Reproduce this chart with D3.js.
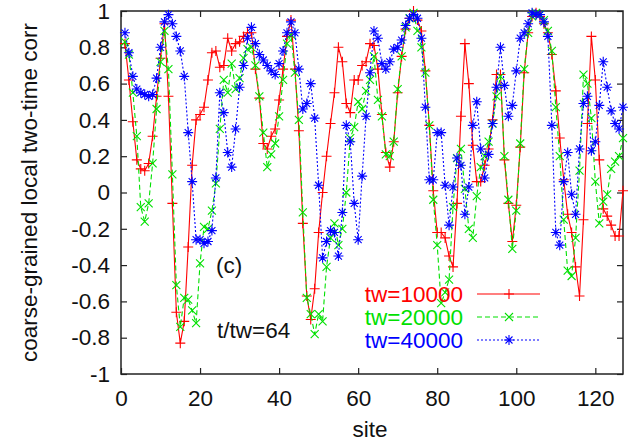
<!DOCTYPE html>
<html>
<head>
<meta charset="utf-8">
<script src="https://cdn.jsdelivr.net/npm/d3@7"></script>
<style>
  body { margin: 0; background: #fff; }
  svg text { font-family: "Liberation Sans", Arial, sans-serif; }
</style>
</head>
<body>
<svg width="631" height="444"></svg>
<script>
const svg = d3.select("svg");

const sites = d3.range(1, 128);

const tw10000 = [
  0.82, 0.62, 0.39, 0.18, 0.13, 0.12, 0.16, 0.31, 0.53, 0.74,
  0.93, 0.53, -0.06, -0.66, -0.83, -0.71, -0.30, 0.15, 0.40, 0.43,
  0.47, 0.62, 0.77, 0.78, 0.69, 0.70, 0.85, 0.78, 0.82, 0.83,
  0.86, 0.88, 0.88, 0.68, 0.52, 0.27, 0.24, 0.31, 0.35, 0.51,
  0.68, 0.86, 0.95, 0.68, 0.34, -0.17, -0.57, -0.70, -0.53, -0.22,
  0.00, 0.20, 0.38, 0.55, 0.80, 0.72, 0.49, 0.44, 0.62, 0.62,
  0.70, 0.72, 0.82, 0.81, 0.68, 0.43, 0.22, 0.14, 0.28, 0.55,
  0.75, 0.90, 0.96, 1.00, 0.95, 0.89, 0.67, 0.37, 0.01, -0.22,
  -0.22, -0.25, -0.35, -0.41, -0.06, 0.42, 0.82, 0.60, 0.26, 0.06,
  0.06, 0.15, 0.24, 0.40, 0.65, 0.65, 0.18, -0.06, -0.27, -0.07,
  0.25, 0.66, 0.88, 0.97, 0.99, 0.97, 0.93, 0.88, 0.76, 0.56,
  0.30, 0.07, -0.12, -0.22, -0.41, -0.57, -0.15, 0.38, 0.86, 0.62,
  0.18, -0.09, -0.13, -0.18, -0.24, -0.24, 0.01
];

const tw20000 = [
  0.83, 0.76, 0.55, 0.31, -0.08, -0.16, -0.06, 0.16, 0.46, 0.72,
  0.89, 0.68, 0.10, -0.51, -0.74, -0.58, -0.59, -0.65, -0.72, -0.39,
  -0.19, -0.20, -0.10, 0.05, 0.35, 0.62, 0.55, 0.71, 0.57, 0.63,
  0.74, 0.79, 0.80, 0.70, 0.53, 0.33, 0.14, 0.21, 0.27, 0.42,
  0.62, 0.82, 0.87, 0.66, 0.40, -0.11, -0.58, -0.67, -0.78, -0.67,
  -0.71, -0.41, -0.25, -0.17, -0.29, -0.20, 0.00, 0.30, 0.36, 0.50,
  0.46, 0.56, 0.62, 0.75, 0.51, 0.42, 0.21, 0.20, 0.28, 0.57,
  0.75, 0.91, 0.96, 0.99, 0.89, 0.80, 0.66, 0.37, -0.04, -0.29,
  -0.61, -0.55, -0.48, -0.08, 0.19, 0.24, 0.02, -0.20, -0.25, -0.02,
  0.14, 0.20, 0.28, 0.38, 0.53, 0.64, 0.20, -0.04, -0.31, -0.10,
  0.27, 0.68, 0.88, 0.97, 0.99, 0.98, 0.95, 0.89, 0.78, 0.47,
  0.20, -0.15, -0.43, -0.46, -0.25, 0.12, 0.65, 0.60, 0.41, 0.06,
  -0.17, -0.05, -0.01, 0.13, 0.17, 0.20, 0.30
];

const tw40000 = [
  0.88, 0.77, 0.64, 0.57, 0.55, 0.54, 0.53, 0.54, 0.63, 0.80,
  0.94, 0.98, 0.93, 0.86, 0.78, 0.64, 0.33, 0.06, -0.26, -0.26,
  -0.28, -0.27, -0.21, 0.08, 0.55, 0.44, 0.22, 0.14, 0.35, 0.58,
  0.70, 0.85, 0.91, 0.82, 0.76, 0.73, 0.70, 0.67, 0.65, 0.71,
  0.78, 0.88, 0.94, 0.88, 0.68, 0.46, 0.49, 0.60, 0.41, 0.04,
  -0.36, -0.27, -0.21, -0.22, -0.35, -0.11, 0.37, 0.28, -0.06, -0.26,
  0.09, 0.42, 0.66, 0.89, 0.85, 0.71, 0.68, 0.72, 0.79, 0.80,
  0.84, 0.92, 0.96, 0.98, 0.96, 0.85, 0.47, 0.07, 0.07, 0.33,
  0.33, 0.04, -0.18, 0.03, 0.19, 0.15, -0.12, 0.03, 0.37, 0.50,
  0.24, 0.08, 0.21, 0.38, 0.58, 0.80, 0.59, 0.42, 0.48, 0.67,
  0.85, 0.88, 0.93, 0.99, 0.98, 0.98, 0.94, 0.86, 0.37, -0.22,
  -0.29, 0.06, 0.22, -0.01, -0.12, 0.24, 0.49, 0.53, 0.23, 0.28,
  0.48, 0.72, 0.58, 0.45, 0.38, 0.35, 0.47
];

const xTicks = [0, 20, 40, 60, 80, 100, 120];
const yTicks = [-1, -0.8, -0.6, -0.4, -0.2, 0, 0.2, 0.4, 0.6, 0.8, 1];

const series = [
  { name: "tw=10000", values: tw10000, color: "#ff0000", dash: null, marker: "plus" },
  { name: "tw=20000", values: tw20000, color: "#00e000", dash: "5,3", marker: "cross" },
  { name: "tw=40000", values: tw40000, color: "#0000ff", dash: "2,2", marker: "star" }
];

const pLeft = 121, pRight = 623, pTop = 11, pBottom = 374;
const fontSize = 22.5;

const x = d3.scaleLinear().domain([0, 127]).range([pLeft, pRight]);
const y = d3.scaleLinear().domain([-1, 1]).range([pBottom, pTop]);

const markers = {
  plus: "M-5,0H5M0,-5V5",
  cross: "M-4,-4L4,4M-4,4L4,-4",
  star: "M-5,0H5M0,-5V5M-3.5,-3.5L3.5,3.5M-3.5,3.5L3.5,-3.5"
};

// ticks, inward on all four sides
const axisColor = "#222";
svg.append("g").attr("transform", `translate(0,${pBottom})`)
  .call(d3.axisBottom(x).tickValues(xTicks).tickSize(-6).tickPadding(16).tickFormat(d3.format("d")));
svg.append("g").attr("transform", `translate(0,${pTop})`)
  .call(d3.axisTop(x).tickValues(xTicks).tickSize(-6).tickFormat(""));
svg.append("g").attr("transform", `translate(${pLeft},0)`)
  .call(d3.axisLeft(y).tickValues(yTicks).tickSize(-6).tickPadding(11).tickFormat(d => String(+d.toFixed(1))));
svg.append("g").attr("transform", `translate(${pRight},0)`)
  .call(d3.axisRight(y).tickValues(yTicks).tickSize(-6).tickFormat(""));

svg.selectAll(".domain").remove();
svg.selectAll(".tick line").attr("stroke", axisColor).attr("stroke-width", 1.2);
svg.selectAll(".tick text").attr("font-size", fontSize).attr("fill", "#111");

svg.append("rect")
  .attr("x", pLeft).attr("y", pTop)
  .attr("width", pRight - pLeft).attr("height", pBottom - pTop)
  .attr("fill", "none").attr("stroke", axisColor).attr("stroke-width", 1.5);

// annotations
svg.append("text").attr("x", 216).attr("y", 273).attr("font-size", fontSize).attr("fill", "#111").text("(c)");
svg.append("text").attr("x", 217).attr("y", 338).attr("font-size", fontSize).attr("fill", "#111").text("t/tw=64");

const line = d3.line().x((d, i) => x(sites[i])).y(d => y(d));

series.forEach(s => {
  const g = svg.append("g");
  g.append("path")
    .datum(s.values)
    .attr("d", line)
    .attr("fill", "none")
    .attr("stroke", s.color)
    .attr("stroke-width", 1.1)
    .attr("stroke-dasharray", s.dash);
  g.selectAll("path.m")
    .data(s.values)
    .enter()
    .append("path")
    .attr("class", "m")
    .attr("transform", (d, i) => `translate(${x(sites[i])},${y(d)})`)
    .attr("d", markers[s.marker])
    .attr("stroke", s.color)
    .attr("stroke-width", 1.1)
    .attr("fill", "none");
});

// legend
const legend = svg.append("g");
series.forEach((s, i) => {
  const ly = 294 + i * 23;
  legend.append("text")
    .attr("x", 463).attr("y", ly + 8)
    .attr("text-anchor", "end")
    .attr("font-size", fontSize)
    .attr("fill", s.color)
    .text(s.name);
  legend.append("line")
    .attr("x1", 477).attr("x2", 540)
    .attr("y1", ly).attr("y2", ly)
    .attr("stroke", s.color)
    .attr("stroke-width", 1.1)
    .attr("stroke-dasharray", s.dash);
  legend.append("path")
    .attr("transform", `translate(509,${ly})`)
    .attr("d", markers[s.marker])
    .attr("stroke", s.color)
    .attr("stroke-width", 1.1)
    .attr("fill", "none");
});

// axis titles
svg.append("text")
  .attr("x", (pLeft + pRight) / 2 - 2).attr("y", 437)
  .attr("text-anchor", "middle")
  .attr("font-size", fontSize).attr("fill", "#111")
  .text("site");
svg.append("text")
  .attr("transform", `translate(37,${(pTop + pBottom) / 2}) rotate(-90)`)
  .attr("text-anchor", "middle")
  .attr("font-size", fontSize).attr("fill", "#111")
  .text("coarse-grained local two-time corr");
</script>
</body>
</html>
